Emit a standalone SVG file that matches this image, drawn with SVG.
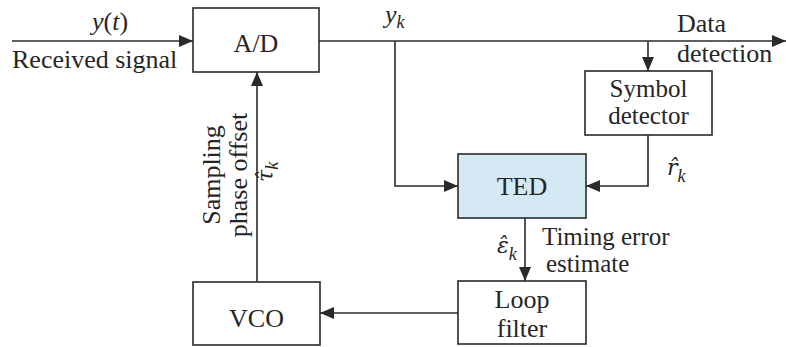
<svg xmlns="http://www.w3.org/2000/svg" width="786" height="347" viewBox="0 0 786 347">
<style>
text{font-family:"Liberation Serif","Times New Roman",serif;font-size:26px;fill:#262626}
.c{text-anchor:middle}
.i{font-style:italic}
.m{font-size:25px}
.s{font-size:18px;font-style:italic;font-family:"Liberation Serif","Times New Roman",serif}
.d{font-family:"DejaVu Serif",serif;font-size:22px;font-style:italic}
.box{fill:#fff;stroke:#2a2a2a;stroke-width:1.6}
.ted{fill:#d4e9f4;stroke:#2a2a2a;stroke-width:1.6}
.ln{fill:none;stroke:#2a2a2a;stroke-width:1.6;marker-end:url(#arr)}
</style>
<defs>
<marker id="arr" viewBox="0 0 14 12" refX="14" refY="6" markerWidth="14" markerHeight="12" orient="auto" markerUnits="userSpaceOnUse"><path d="M0,0 L14,6 L0,12 z" fill="#2a2a2a"/></marker>
</defs>
<rect width="786" height="347" fill="#fff"/>
<g id="connectors">
<path class="ln" d="M12,41 H193"/>
<path class="ln" d="M319,41 H786"/>
<path class="ln" d="M648,41 V71"/>
<path class="ln" d="M395,41 V186 H458"/>
<path class="ln" d="M648,135 V186 H586"/>
<path class="ln" d="M525,218 V281"/>
<path class="ln" d="M458,313 H320"/>
<path class="ln" d="M257,282 V72"/>
</g>
<g id="labels">
<text x="110" y="30" class="c"><tspan class="i">y</tspan>(<tspan class="i">t</tspan>)</text>
<text x="12" y="68">Received signal</text>
<text x="385" y="23" class="i">y<tspan class="s" dy="5">k</tspan></text>
<text x="677" y="32">Data<tspan x="677" dy="30">detection</tspan></text>
<text x="667" y="175" class="d">r̂<tspan class="s" dy="7">k</tspan></text>
<text x="497" y="253" class="d">ε̂<tspan class="s" dy="7">k</tspan></text>
<text x="542" y="245" class="m">Timing error<tspan x="546" dy="26.5">estimate</tspan></text>
<text transform="translate(220,175) rotate(-90)" class="c">Sampling<tspan x="0" dy="27">phase offset</tspan></text>
<text transform="translate(273,182) rotate(-90)" class="d">τ̂<tspan class="s" dy="5">k</tspan></text>
</g>
<g id="ad"><rect class="box" x="193" y="8" width="126" height="64"/><text x="256" y="52" class="c">A/D</text></g>
<g id="symbol"><rect class="box" x="585" y="71" width="127" height="64"/><text x="648.5" y="97" class="c m">Symbol<tspan x="648.5" dy="27">detector</tspan></text></g>
<g id="ted"><rect class="ted" x="458" y="154" width="128" height="64"/><text x="522" y="195" class="c">TED</text></g>
<g id="loop"><rect class="box" x="458" y="281" width="128" height="63"/><text x="522" y="308" class="c">Loop<tspan x="522" dy="29">filter</tspan></text></g>
<g id="vco"><rect class="box" x="193" y="282" width="127" height="63"/><text x="256.5" y="327" class="c">VCO</text></g>
</svg>
